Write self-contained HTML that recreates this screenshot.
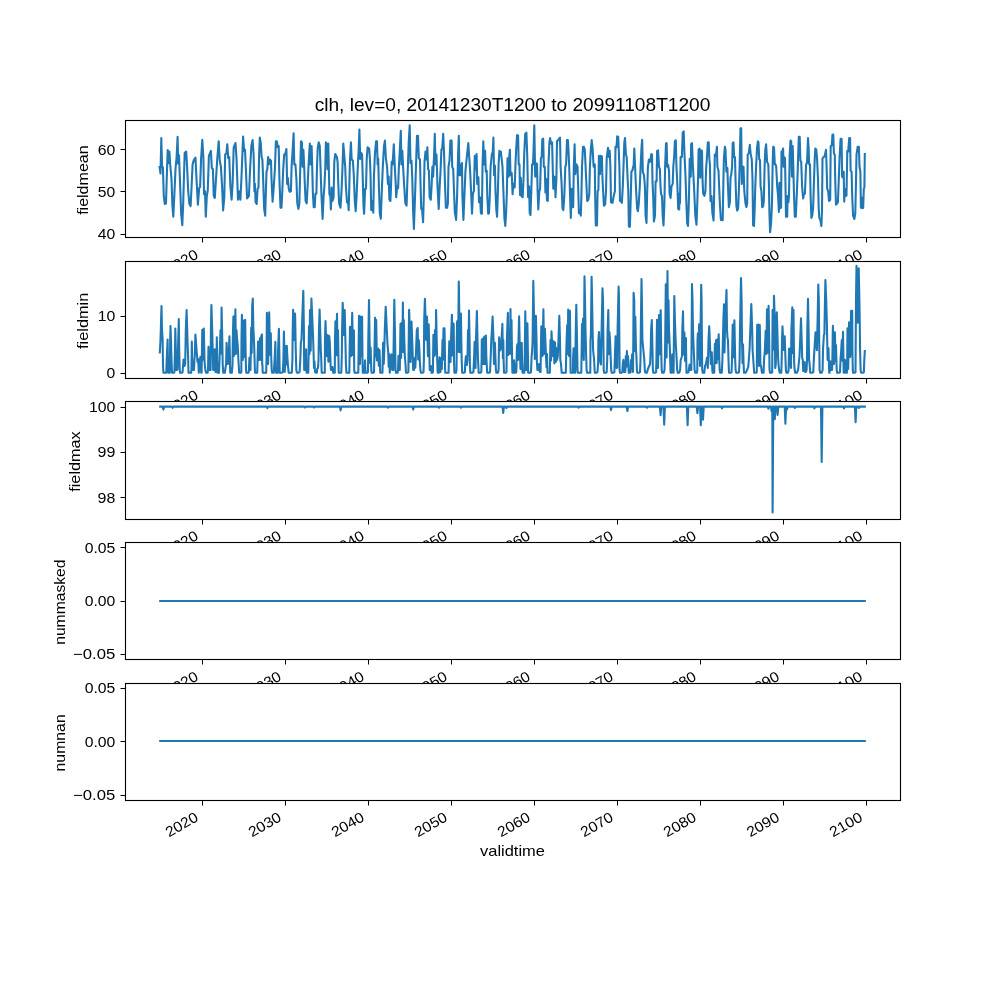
<!DOCTYPE html>
<html><head><meta charset="utf-8"><title>clh lev=0</title>
<style>
html,body{margin:0;padding:0;background:#fff;}
body{width:1000px;height:1000px;overflow:hidden;}
svg{display:block;will-change:transform;}
text{font-family:"Liberation Sans",sans-serif;fill:#000;}
.t{font-size:14.5px;}
.ti{font-size:18.2px;}
.fr{fill:#fff;stroke:#000;stroke-width:1.11;}
.tk{stroke:#000;stroke-width:1;fill:none;}
.ln{fill:none;stroke:#1f77b4;stroke-width:2.083;stroke-linejoin:round;stroke-linecap:square;}
</style></head>
<body>
<svg width="1000" height="1000" viewBox="0 0 1000 1000">
<rect x="0" y="0" width="1000" height="1000" fill="#fff"/>
<g id="ax0">
<rect class="fr" x="125.5" y="120.5" width="775" height="117"/>
<polyline class="ln" points="159.6,166.8 160.5,173.5 161.3,138.1 162.1,166.8 162.9,167.4 163.8,196.1 164.8,204.0 166.0,203.4 166.8,176.6 167.7,150.0 168.5,163.1 169.4,151.6 170.2,164.4 171.5,179.0 172.4,205.8 173.3,216.6 174.3,196.1 175.5,169.2 176.6,157.0 177.6,136.9 178.2,163.8 179.0,155.2 180.0,181.4 181.2,214.4 182.3,225.1 183.2,203.4 184.0,175.3 184.7,152.8 186.2,151.6 187.1,166.8 188.2,191.2 189.4,204.0 190.6,206.1 191.6,186.3 192.6,164.4 193.8,160.1 195.5,157.7 196.5,179.0 197.9,204.6 199.2,188.2 200.1,186.9 201.1,158.3 202.3,139.7 203.4,158.3 204.0,194.2 205.0,191.2 205.8,216.8 206.8,196.1 207.8,190.0 208.9,155.8 210.9,150.9 211.8,168.0 212.9,169.2 213.8,196.1 214.8,197.9 216.0,179.0 217.2,159.5 218.7,141.2 219.7,160.1 220.9,166.8 222.1,186.3 223.1,210.5 224.3,197.3 225.2,154.6 226.4,153.4 227.3,144.2 228.2,158.3 229.2,157.0 230.4,186.3 231.6,199.7 232.6,183.9 233.7,147.3 235.5,143.0 236.5,158.3 238.0,199.7 239.2,191.2 240.4,199.7 241.4,179.0 243.1,136.5 244.1,150.9 245.0,149.7 245.9,169.2 247.1,198.5 248.9,196.1 250.2,166.8 251.4,145.4 252.6,140.0 253.6,154.6 254.4,191.2 254.9,183.9 255.6,202.2 256.7,204.0 257.6,188.8 258.5,187.5 259.1,154.6 259.8,137.5 260.7,142.4 261.6,157.0 262.4,159.5 263.4,186.3 264.1,208.3 265.2,215.6 265.9,191.2 266.5,171.7 267.3,169.2 268.1,157.0 268.9,164.4 269.8,159.5 271.0,160.7 271.5,179.0 272.6,201.6 273.8,186.3 275.0,166.8 275.9,141.2 276.8,141.2 277.8,147.3 278.7,146.1 279.4,179.0 280.5,207.7 281.5,207.7 282.3,191.2 283.2,169.2 284.2,154.6 285.1,154.6 286.4,149.1 286.8,166.8 287.1,183.9 287.8,177.8 288.8,188.8 289.6,191.8 290.9,191.2 291.6,166.8 292.5,152.2 293.6,133.2 294.3,164.4 295.4,164.4 296.4,179.0 297.3,203.4 298.4,208.9 299.4,203.4 300.3,166.8 301.0,141.2 301.9,142.4 302.6,166.8 303.4,149.7 304.2,166.8 304.9,186.3 305.6,201.0 306.7,203.4 307.6,186.3 308.6,164.4 309.8,143.6 310.6,164.4 311.6,146.1 312.2,166.8 312.9,193.6 313.7,207.1 314.7,207.1 315.4,193.6 316.4,193.6 317.0,166.8 317.7,148.5 318.7,142.4 319.8,146.1 320.5,166.8 321.4,193.6 322.6,219.0 323.6,196.1 324.4,186.3 325.3,166.8 325.9,142.4 326.9,144.8 327.6,169.2 328.3,143.6 328.9,170.5 329.4,194.2 330.3,196.1 330.9,209.5 331.6,187.5 332.5,201.0 333.6,197.3 334.3,161.9 335.2,154.0 336.9,157.0 337.6,161.9 338.2,181.4 339.1,203.4 340.5,207.7 341.5,191.2 342.5,166.8 343.3,143.6 344.2,154.6 345.2,166.8 345.9,186.3 347.0,202.2 348.2,203.4 348.7,210.1 349.3,186.3 349.9,161.9 350.9,142.4 351.7,159.5 352.9,160.7 353.8,175.3 354.8,201.0 355.7,211.3 356.6,196.1 357.8,166.8 358.7,148.5 359.4,129.6 360.2,158.9 361.1,152.8 362.1,154.6 362.7,176.6 363.5,205.8 364.1,213.8 365.1,188.8 366.0,188.8 366.7,159.5 367.6,147.3 369.2,148.5 370.0,160.7 370.6,176.6 371.2,210.1 372.1,201.0 373.3,212.6 373.9,177.8 374.9,154.6 376.1,141.2 377.0,141.2 377.6,164.4 378.2,158.3 378.9,186.3 379.8,213.2 380.8,218.7 381.6,196.1 382.8,166.8 384.0,146.1 384.9,140.6 385.9,158.3 387.1,166.8 387.9,183.9 388.7,176.6 389.4,199.7 390.4,201.0 391.1,183.9 391.7,161.9 392.6,164.4 393.8,144.2 394.8,166.8 395.6,181.4 396.2,197.3 397.2,186.3 398.1,188.2 398.9,166.8 399.9,148.5 400.8,130.8 401.5,164.4 402.3,150.9 403.1,166.8 404.2,186.3 405.4,203.4 406.6,205.6 407.2,186.3 407.9,166.8 408.7,142.4 409.7,125.3 410.5,163.1 411.5,160.7 412.3,179.0 413.1,210.7 413.9,229.0 414.8,203.4 415.8,171.7 417.0,135.7 418.0,135.7 418.8,158.3 420.0,159.5 420.6,186.3 421.2,208.9 422.0,208.3 423.1,222.3 423.8,196.1 424.5,161.9 425.5,151.6 426.5,159.5 427.4,147.3 428.1,169.2 428.9,170.5 429.6,197.3 430.8,199.7 431.6,186.3 432.4,166.8 433.1,176.6 434.1,154.6 434.8,133.9 435.5,164.4 436.5,154.6 437.5,186.3 438.7,208.9 439.7,186.3 440.5,171.7 441.4,149.7 442.2,148.5 443.2,133.9 444.1,154.6 444.9,181.4 445.9,207.7 447.1,207.7 447.9,203.4 448.5,166.8 449.5,160.7 450.4,140.6 451.6,140.6 452.2,166.8 453.2,169.2 454.0,191.2 454.8,211.9 456.1,219.9 457.1,196.1 458.1,154.6 458.8,135.7 459.5,175.3 460.2,164.4 461.0,175.3 462.0,163.1 462.4,196.1 463.4,219.9 464.4,196.1 465.4,171.7 466.8,157.0 468.3,143.0 469.0,154.6 469.9,166.8 471.1,191.2 472.0,213.8 472.9,193.6 473.9,191.2 474.8,155.8 475.6,169.2 476.6,154.0 477.2,183.9 478.4,177.2 479.0,202.2 480.0,197.3 480.9,213.2 481.9,213.8 482.5,166.8 483.3,141.2 484.2,164.4 485.1,150.9 485.8,171.7 486.7,170.5 487.3,196.1 488.2,213.8 489.0,213.2 489.8,196.1 490.6,166.8 491.9,154.0 492.7,152.2 493.4,137.5 494.1,175.3 494.9,165.6 495.5,191.2 496.4,210.7 497.1,216.8 497.9,191.2 498.6,164.4 499.4,150.9 500.8,151.6 501.6,158.3 502.5,166.8 503.4,191.2 504.4,218.0 505.3,226.0 506.1,213.2 506.9,191.2 507.5,158.3 508.6,176.6 509.2,157.0 509.9,149.7 510.5,175.3 511.7,172.9 512.6,194.2 513.4,183.9 514.7,187.5 515.4,166.8 516.2,148.5 517.1,135.1 518.1,135.7 518.7,164.4 519.5,164.4 520.0,194.9 520.8,177.8 521.5,196.1 522.7,197.3 523.6,176.6 524.2,154.6 525.2,133.9 526.4,132.6 527.2,154.6 528.1,197.3 529.1,186.3 529.7,213.2 530.5,215.0 531.3,191.2 532.1,164.4 533.0,164.4 533.7,146.1 534.3,125.3 535.2,176.6 535.9,163.1 537.0,163.8 537.6,191.2 538.3,209.5 539.3,191.2 540.1,188.8 540.9,158.3 541.7,157.0 542.3,139.3 543.2,138.7 543.8,166.8 544.8,166.8 545.4,192.4 546.2,179.0 547.0,200.3 547.8,201.0 548.4,166.8 549.4,142.4 550.1,138.1 551.1,143.6 552.1,142.4 552.7,166.8 553.3,188.8 554.3,176.6 554.9,177.8 555.5,197.3 556.4,179.0 557.0,141.2 558.2,140.0 559.2,138.7 560.0,137.5 560.6,166.8 561.6,183.9 562.5,208.3 563.3,210.1 564.3,196.1 565.3,166.8 566.1,164.4 567.0,140.0 567.9,140.0 568.5,150.9 569.2,166.8 570.1,196.1 570.8,218.0 571.6,188.8 572.2,207.1 573.2,207.1 573.8,166.8 574.6,144.2 575.3,174.1 576.5,164.4 577.5,166.8 578.3,191.2 578.9,213.2 579.8,210.7 580.8,215.6 581.4,196.1 582.0,166.8 583.0,146.7 583.8,146.7 584.8,149.7 585.6,166.8 586.5,186.3 587.2,201.0 588.4,199.7 589.3,193.6 589.9,166.8 590.9,148.5 591.7,140.0 592.6,148.5 593.6,166.8 594.8,164.4 595.1,191.2 595.8,225.4 597.0,225.4 597.6,191.2 598.4,190.0 598.9,155.8 599.9,174.1 600.9,155.8 601.9,156.4 602.3,174.1 603.1,191.2 603.9,205.8 605.1,204.6 606.0,191.2 606.7,158.3 608.0,147.9 608.8,157.0 609.7,150.9 610.4,166.8 611.0,202.2 612.5,202.8 613.7,196.1 614.9,191.2 615.5,146.7 616.5,147.3 617.2,136.3 618.2,136.9 618.9,153.4 619.4,166.8 620.0,201.0 621.0,201.0 621.9,202.8 622.8,186.3 623.5,166.8 624.3,142.4 625.0,138.1 625.9,154.6 626.7,157.0 627.5,176.6 628.3,191.2 628.9,226.6 629.9,226.6 630.8,196.1 631.4,171.7 632.4,170.5 633.2,166.8 633.7,164.4 634.3,148.5 635.1,166.8 635.9,186.3 637.1,208.3 637.9,211.3 638.8,203.4 639.8,186.3 640.7,164.4 641.6,146.1 642.2,139.7 642.8,171.7 644.0,175.3 644.9,186.3 645.6,215.6 646.5,222.9 647.1,196.1 647.9,166.8 648.9,159.5 650.1,161.9 651.4,154.0 652.0,154.6 652.5,181.4 653.2,196.1 653.9,221.5 655.0,215.6 655.6,181.4 656.6,181.4 657.1,150.9 658.1,150.3 659.0,166.8 659.9,169.2 660.5,186.3 661.1,194.2 662.0,196.1 662.7,215.6 663.5,225.4 664.4,203.4 665.1,166.8 666.0,143.6 666.6,143.0 667.2,166.8 668.1,165.0 669.0,170.5 669.6,193.6 670.6,197.9 671.5,186.3 672.7,183.9 673.3,166.8 674.2,155.8 674.9,141.2 675.8,140.3 676.4,164.4 677.3,183.9 678.2,208.9 679.2,209.5 679.5,193.6 680.0,203.4 680.6,157.0 681.9,157.0 682.7,132.6 683.7,131.4 684.3,149.7 685.5,176.6 686.4,203.4 687.1,222.9 688.0,226.0 688.8,203.4 689.4,176.6 689.7,158.9 690.8,176.6 691.1,144.2 692.0,143.0 692.8,164.4 694.0,186.3 695.3,215.6 696.5,224.8 697.3,203.4 698.1,176.6 698.6,149.7 699.5,148.5 700.3,177.8 701.0,150.3 702.0,150.9 702.6,181.4 703.2,193.6 704.4,195.8 705.4,191.2 706.2,166.8 706.9,158.3 707.8,142.4 708.7,142.2 709.3,158.3 709.9,164.4 710.5,201.0 711.5,196.1 712.4,213.2 713.6,220.5 714.2,191.2 714.8,154.6 716.0,155.8 716.9,146.7 717.4,166.8 718.5,170.5 719.1,186.3 720.0,205.8 720.9,219.9 722.7,220.2 723.3,186.3 723.9,158.3 724.9,146.7 725.5,149.7 726.4,171.7 727.4,168.0 727.8,181.4 728.8,205.8 728.9,207.1 729.9,202.2 730.5,177.8 731.3,174.1 732.1,166.8 732.7,143.0 733.5,142.4 734.1,157.0 735.0,157.0 735.7,186.3 736.4,205.8 737.2,210.7 738.2,208.3 739.0,186.3 739.6,166.8 740.5,128.4 741.2,128.4 741.8,183.9 742.7,166.8 743.5,166.8 744.3,191.2 745.5,203.4 746.4,207.1 747.2,203.4 747.7,154.6 748.8,153.4 749.8,144.8 750.6,153.4 751.8,159.5 752.5,179.0 753.1,225.4 754.0,226.0 754.6,210.7 755.3,186.3 756.1,166.8 757.0,148.5 757.9,141.2 758.5,142.4 759.2,159.5 760.0,160.1 760.6,186.3 761.4,191.2 762.2,207.1 763.1,206.4 763.8,201.0 764.6,166.8 765.3,149.7 766.1,144.2 767.1,161.9 768.3,164.4 768.9,183.9 769.5,215.6 770.1,232.1 771.1,222.9 772.0,203.4 772.6,166.8 773.2,146.7 774.0,147.3 774.8,164.4 775.6,164.4 776.2,166.8 777.2,186.3 778.1,196.1 778.9,211.9 779.5,182.7 780.1,208.3 781.1,207.7 781.5,151.6 782.3,152.2 783.1,148.5 783.6,166.8 784.2,157.0 785.0,158.3 785.5,186.3 786.0,216.8 787.2,216.8 787.6,196.1 788.4,202.2 789.0,196.1 789.7,154.6 790.5,140.6 791.2,141.2 791.9,176.6 792.7,146.1 793.3,166.8 793.9,191.2 794.8,216.8 795.8,216.8 796.4,203.4 797.6,174.1 798.2,154.6 798.8,136.9 799.7,136.9 800.4,160.7 801.2,161.9 802.1,186.3 803.1,198.5 804.1,193.6 804.9,193.6 805.5,179.0 806.1,164.4 807.0,163.1 808.0,138.1 808.6,147.3 809.2,164.4 810.0,164.4 810.6,196.1 811.4,218.0 812.2,215.6 813.1,208.3 813.8,186.3 814.7,159.5 815.3,148.5 816.3,149.7 817.1,159.5 818.0,179.0 818.7,208.3 819.3,218.0 820.2,219.3 821.4,226.0 822.0,210.7 822.5,158.3 823.6,157.0 824.1,157.0 825.0,154.6 826.0,149.7 826.6,166.8 827.2,188.8 828.2,191.2 829.0,201.0 830.2,199.7 830.7,146.1 831.8,145.4 832.5,134.5 833.3,134.5 833.9,153.4 834.8,154.6 835.2,179.0 836.0,204.6 837.2,203.4 837.9,202.2 838.8,179.0 839.6,157.0 840.6,138.7 841.6,138.7 842.1,176.6 843.1,177.8 843.7,171.7 844.2,201.6 844.9,188.8 845.5,196.1 846.5,195.5 847.3,150.9 848.2,151.6 849.2,138.1 850.1,138.1 850.6,170.5 851.6,171.7 852.2,196.1 853.1,215.6 854.3,219.0 855.3,213.2 855.9,186.3 856.5,154.6 857.7,146.7 858.9,146.7 859.5,166.8 860.4,171.7 860.9,207.7 861.6,197.3 862.6,208.3 863.2,207.7 863.8,188.8 864.4,187.5 864.8,154.0"/>
<path class="tk" d="M202.5 238v4.5M285.5 238v4.5M368.5 238v4.5M451.5 238v4.5M534.5 238v4.5M617.5 238v4.5M700.5 238v4.5M783.5 238v4.5M866.5 238v4.5"/>
<path class="tk" d="M125 234.5h-4.5M125 191.5h-4.5M125 149.5h-4.5"/>
<text class="t" text-anchor="end" textLength="35.00" lengthAdjust="spacingAndGlyphs" transform="translate(199.27 257.26) rotate(-30)">2020</text>
<text class="t" text-anchor="end" textLength="35.00" lengthAdjust="spacingAndGlyphs" transform="translate(282.31 257.26) rotate(-30)">2030</text>
<text class="t" text-anchor="end" textLength="35.00" lengthAdjust="spacingAndGlyphs" transform="translate(365.32 257.26) rotate(-30)">2040</text>
<text class="t" text-anchor="end" textLength="35.00" lengthAdjust="spacingAndGlyphs" transform="translate(448.36 257.26) rotate(-30)">2050</text>
<text class="t" text-anchor="end" textLength="35.00" lengthAdjust="spacingAndGlyphs" transform="translate(531.38 257.26) rotate(-30)">2060</text>
<text class="t" text-anchor="end" textLength="35.00" lengthAdjust="spacingAndGlyphs" transform="translate(614.42 257.26) rotate(-30)">2070</text>
<text class="t" text-anchor="end" textLength="35.00" lengthAdjust="spacingAndGlyphs" transform="translate(697.43 257.26) rotate(-30)">2080</text>
<text class="t" text-anchor="end" textLength="35.00" lengthAdjust="spacingAndGlyphs" transform="translate(780.47 257.26) rotate(-30)">2090</text>
<text class="t" text-anchor="end" textLength="35.12" lengthAdjust="spacingAndGlyphs" transform="translate(863.49 257.26) rotate(-30)">2100</text>
<text class="t" text-anchor="end" textLength="17.50" lengthAdjust="spacingAndGlyphs" x="115.28" y="238.80">40</text>
<text class="t" text-anchor="end" textLength="17.50" lengthAdjust="spacingAndGlyphs" x="115.28" y="196.67">50</text>
<text class="t" text-anchor="end" textLength="17.62" lengthAdjust="spacingAndGlyphs" x="115.28" y="154.54">60</text>
<text class="t" text-anchor="middle" textLength="69.50" lengthAdjust="spacingAndGlyphs" transform="translate(87.69 180.12) rotate(-90)">fieldmean</text>
<text class="ti" text-anchor="middle" textLength="395.75" lengthAdjust="spacingAndGlyphs" x="512.5" y="111.10">clh, lev=0, 20141230T1200 to 20991108T1200</text>
</g>
<g id="ax1">
<rect class="fr" x="125.5" y="261.5" width="775" height="117"/>
<polyline class="ln" points="159.8,352.5 160.5,340.0 161.5,306.0 162.0,330.0 162.6,338.5 163.0,365.0 163.4,372.8 164.2,372.8 165.5,372.8 166.3,372.8 166.7,360.0 167.6,339.5 168.1,372.0 168.3,372.8 169.1,372.8 169.8,372.8 170.2,340.0 170.5,326.0 171.0,340.0 171.5,360.0 172.0,372.8 172.8,372.8 173.6,372.8 174.4,372.2 175.0,350.0 175.3,328.5 175.7,344.0 176.2,370.0 177.0,370.0 177.4,369.0 178.1,344.5 178.8,319.0 179.2,350.0 179.7,370.0 180.2,372.8 181.0,372.8 181.8,372.8 182.6,372.2 183.5,359.5 184.5,366.0 185.2,364.0 185.8,330.0 186.6,310.0 187.5,339.8 188.2,360.0 188.5,372.8 189.3,372.8 190.5,372.8 191.1,372.8 191.5,369.0 191.8,341.5 192.2,360.0 192.5,370.0 193.2,370.0 194.0,370.0 194.4,360.0 194.8,355.0 195.4,334.5 196.7,351.8 197.5,362.0 198.2,359.0 198.8,372.8 199.5,362.0 199.9,368.1 200.4,356.8 201.2,372.8 201.6,372.8 202.3,329.8 203.1,359.6 203.8,328.5 204.5,360.0 204.9,366.0 205.4,370.0 206.0,372.8 206.8,372.8 207.6,372.8 208.0,370.0 208.5,346.8 209.2,370.0 209.8,370.0 210.6,370.0 210.9,330.0 211.4,305.1 212.2,330.0 212.7,350.0 213.2,370.0 214.0,370.0 214.8,349.2 215.5,372.0 215.8,372.0 216.1,372.0 216.4,370.0 216.8,337.2 217.2,360.0 217.5,372.8 218.2,372.8 219.0,372.8 219.5,360.0 220.0,345.0 220.5,330.0 221.1,353.4 221.6,307.5 222.3,340.0 222.7,364.0 223.2,372.8 224.0,372.8 224.8,372.8 225.5,368.0 226.1,364.0 226.6,342.8 227.8,364.0 228.5,362.5 229.4,336.4 229.9,356.0 230.2,372.8 231.0,372.8 231.8,372.8 232.5,365.0 232.8,340.0 233.4,316.6 233.9,355.9 234.5,316.0 234.9,353.9 235.4,309.4 235.9,353.9 236.5,330.0 237.0,338.0 237.7,345.0 238.4,360.0 239.2,372.8 240.0,372.8 240.8,372.8 241.3,372.2 241.5,340.0 241.9,314.9 242.8,360.0 243.5,320.5 244.3,357.0 245.2,319.8 245.6,350.0 246.0,370.0 246.4,372.8 247.2,372.8 248.0,372.8 248.8,372.2 249.4,357.8 250.1,370.0 250.5,370.0 251.2,327.5 251.7,352.9 252.2,306.0 252.8,298.6 253.4,330.0 253.5,330.0 254.2,346.5 254.9,370.0 255.2,372.8 256.0,372.8 257.2,372.8 258.1,341.5 259.0,360.0 260.0,338.2 260.9,360.0 261.3,336.0 262.0,334.5 262.2,364.0 262.5,366.0 262.7,372.8 263.5,372.8 265.5,372.8 266.2,372.8 266.5,360.0 266.9,312.8 268.1,364.0 269.2,312.4 270.0,354.8 270.8,333.2 271.2,356.0 271.7,370.0 272.2,372.8 273.0,372.8 273.8,372.8 274.6,359.5 275.4,341.8 275.8,370.0 276.2,372.8 277.0,372.8 277.8,372.8 278.1,350.0 278.9,328.9 279.3,350.0 279.7,372.8 280.5,372.8 281.3,372.8 282.8,372.2 283.4,360.0 283.9,331.5 284.8,372.0 285.5,346.0 286.1,364.8 286.8,345.8 287.3,356.0 288.0,366.0 288.7,372.8 289.5,372.8 291.0,372.8 291.8,372.8 292.4,360.0 292.7,330.0 293.1,309.9 294.2,340.0 295.1,313.5 295.7,348.0 296.3,370.0 297.0,372.8 297.8,372.8 298.6,372.8 299.6,372.0 300.3,360.0 300.9,342.0 301.5,340.0 302.2,320.0 303.3,290.7 303.9,330.0 304.2,370.0 305.0,370.0 305.4,370.0 306.1,349.2 306.5,372.0 306.7,372.8 307.5,372.8 308.3,372.8 308.5,360.0 309.0,326.0 309.5,354.1 310.0,310.0 310.7,350.7 311.4,298.6 312.8,330.0 313.5,350.0 314.0,368.0 314.5,361.5 315.0,372.0 316.0,372.8 316.8,372.8 317.2,369.0 318.0,368.0 318.5,360.0 319.0,330.0 319.6,309.6 320.2,330.0 320.8,350.0 321.2,358.0 321.7,372.8 322.5,372.8 324.0,372.8 324.8,372.8 325.0,340.0 325.5,321.1 326.6,356.0 327.6,335.0 328.4,361.6 329.2,336.0 329.8,342.0 330.3,356.0 330.6,365.0 331.0,370.0 331.8,370.0 332.5,367.0 333.2,372.8 334.5,372.8 334.8,372.8 335.0,340.0 335.4,321.4 336.2,355.2 337.0,313.8 337.5,355.2 338.0,330.0 338.4,354.0 338.7,372.8 339.5,372.8 340.5,372.8 341.3,372.8 341.8,356.0 342.1,330.0 342.7,302.9 343.8,335.0 344.7,310.0 345.4,340.0 345.9,364.0 346.4,372.8 347.2,372.8 348.5,372.8 349.3,372.8 349.5,360.0 350.0,326.8 351.2,356.0 352.2,312.8 353.0,354.9 353.9,330.2 354.2,370.0 354.7,372.8 355.5,372.8 357.5,372.8 358.3,372.8 358.5,360.0 359.0,315.8 360.0,364.0 360.5,316.5 361.3,356.1 362.1,316.8 362.5,360.0 362.8,372.8 363.5,372.8 364.3,372.8 364.6,370.0 365.0,360.2 365.4,370.0 365.7,372.8 366.5,372.8 367.3,372.8 368.0,372.0 368.3,340.0 369.0,300.0 369.6,340.0 370.1,363.1 370.6,347.5 371.3,370.0 371.7,372.8 372.5,372.8 373.3,372.8 374.0,372.2 374.5,350.0 375.1,317.8 375.6,356.4 376.2,320.0 376.9,360.5 378.1,348.5 378.8,365.6 379.5,350.0 379.9,360.0 380.2,372.8 380.5,372.8 381.8,372.8 382.5,372.8 382.8,356.0 383.1,342.8 383.7,363.9 384.2,353.0 384.8,330.0 385.7,306.8 386.8,330.0 387.5,344.0 388.2,352.0 388.7,366.7 389.2,354.0 389.8,372.8 390.5,356.0 391.0,367.4 391.5,354.2 392.2,370.0 392.5,370.0 393.3,370.0 393.7,340.0 394.3,299.8 395.1,340.0 395.5,370.0 396.0,372.8 396.8,372.8 397.6,372.8 398.0,370.0 398.5,355.8 399.2,370.0 399.5,370.0 399.8,370.0 400.5,323.8 401.1,357.9 401.8,322.5 402.3,351.9 402.9,302.6 403.3,351.9 403.8,320.0 404.3,340.0 404.8,356.0 405.4,362.5 406.0,372.8 406.8,372.8 407.6,372.8 408.4,372.0 408.7,340.0 409.1,309.9 410.2,340.0 410.5,362.0 411.5,321.6 412.2,340.0 412.7,356.0 413.2,370.0 414.0,370.0 414.8,358.0 415.3,367.8 415.9,355.5 416.8,330.0 417.7,328.0 418.2,359.5 418.8,340.0 419.3,348.0 419.8,360.0 420.4,370.0 421.0,372.8 421.8,372.8 422.6,372.8 423.5,372.2 423.9,360.0 424.2,320.0 424.9,298.9 426.2,340.0 427.0,316.5 427.9,356.1 428.7,324.2 429.3,350.0 429.7,370.0 430.5,370.0 431.0,366.0 431.5,372.8 432.3,372.8 432.9,372.2 433.4,334.8 434.5,356.0 435.0,330.0 435.6,354.1 436.1,310.0 436.7,340.0 437.2,360.0 437.7,372.8 438.5,372.8 438.8,372.8 439.5,357.2 440.2,372.0 440.5,372.0 441.2,358.0 441.8,369.0 442.5,340.0 443.0,359.6 443.5,328.4 444.0,359.6 444.5,328.3 444.8,343.5 445.1,370.0 445.4,372.8 446.2,372.8 447.8,372.8 448.6,372.8 448.8,360.0 449.3,341.2 450.5,362.0 451.0,340.0 451.9,314.8 452.5,355.5 453.1,323.2 453.7,324.0 454.0,360.0 454.4,372.8 455.2,372.8 456.0,372.8 456.5,370.0 456.8,340.0 457.1,321.2 458.0,352.0 458.8,281.6 459.9,352.2 460.9,313.5 461.3,340.0 461.7,360.0 462.2,372.8 463.0,372.8 463.8,372.8 464.9,372.2 465.2,364.0 465.9,356.2 466.8,365.0 467.5,360.0 468.0,330.0 468.5,354.3 469.0,310.6 469.6,340.0 469.9,366.0 470.4,372.8 471.2,372.8 472.0,372.8 473.4,372.2 474.0,360.0 474.6,341.8 475.5,368.0 476.0,340.0 476.9,311.1 477.5,340.0 478.0,360.0 478.7,372.8 479.5,372.8 480.3,372.8 481.3,372.2 481.6,360.0 481.8,339.5 482.4,364.0 483.0,338.5 483.7,364.0 484.3,336.5 485.0,364.0 485.9,335.5 486.3,356.0 486.7,364.0 487.2,372.8 488.0,372.8 488.8,372.8 490.0,372.2 490.6,360.0 491.3,340.0 491.9,330.0 492.6,316.6 493.5,340.0 494.0,364.0 494.9,342.8 495.5,360.0 495.9,370.0 496.4,372.8 497.2,372.8 498.0,372.8 498.6,370.0 499.1,337.4 500.2,350.5 501.0,348.0 501.5,340.0 502.4,323.9 502.9,358.3 503.3,340.0 503.6,360.0 504.0,372.8 504.8,372.8 505.6,372.8 506.5,372.2 506.9,340.0 507.4,325.0 507.9,312.9 508.3,355.0 508.8,332.0 509.4,330.0 509.9,353.8 510.5,309.1 511.0,353.8 511.5,320.0 511.8,340.0 512.2,364.0 512.4,372.8 513.2,372.8 513.5,372.8 514.1,360.2 515.0,372.8 515.8,372.8 516.3,372.0 517.0,346.5 517.5,344.0 518.0,360.0 518.5,340.0 519.1,316.4 520.0,356.0 520.5,369.0 521.7,342.8 522.3,370.0 522.7,372.8 523.5,372.8 524.3,372.8 524.7,360.0 525.3,311.2 526.2,370.0 526.7,370.0 527.4,323.2 528.0,360.0 528.2,372.8 529.0,372.8 529.8,372.8 531.0,372.2 531.6,356.0 532.1,352.0 532.6,340.0 533.3,280.9 534.5,340.0 534.8,359.0 535.9,315.9 536.5,340.0 536.9,362.0 537.4,370.0 538.2,370.0 539.0,364.0 539.8,372.0 540.6,372.0 540.9,350.0 541.3,326.4 542.5,356.0 543.4,309.4 544.1,353.9 544.9,328.8 545.9,353.8 546.5,367.2 547.0,354.0 547.5,372.8 549.8,372.8 550.5,340.0 551.0,360.5 551.5,331.4 552.6,356.0 553.7,341.2 554.4,363.5 555.0,342.5 555.8,362.0 556.2,348.0 557.0,360.0 557.8,356.0 558.5,340.0 559.3,315.9 560.0,340.0 560.3,360.0 561.0,363.8 561.7,372.8 562.5,372.8 565.0,372.8 565.8,372.8 566.3,350.0 566.8,335.0 567.2,325.0 567.7,354.0 568.2,309.6 569.0,356.0 569.9,310.8 570.6,372.8 572.2,372.8 572.9,372.8 573.1,358.0 573.6,348.2 574.5,372.8 575.3,372.8 575.6,339.5 576.3,304.8 577.0,340.0 577.5,370.0 578.0,372.8 578.8,372.8 580.5,372.8 581.3,372.8 581.5,360.0 581.8,340.0 582.0,324.0 582.6,356.6 583.1,318.5 583.8,360.0 584.5,276.2 585.0,300.0 585.5,330.0 586.0,350.0 586.6,370.0 587.2,372.8 588.0,372.8 589.5,372.8 590.3,372.8 590.5,340.0 590.9,334.2 591.6,276.7 592.1,300.0 592.6,330.0 593.1,350.0 594.0,358.5 594.8,372.8 595.6,372.8 596.4,372.8 597.5,372.2 598.1,364.0 598.4,340.0 599.0,332.1 600.0,360.0 600.9,364.5 601.6,330.0 602.5,288.2 603.0,300.0 603.4,340.0 603.7,370.0 604.2,372.8 605.0,372.8 605.8,372.8 606.7,372.2 607.2,360.0 607.6,330.0 608.3,310.1 608.9,354.1 609.4,332.0 610.0,340.0 610.6,356.0 611.2,370.0 611.7,372.8 612.5,372.8 613.3,372.8 614.4,372.2 614.8,360.0 615.6,336.4 616.6,368.0 617.2,367.5 617.6,330.0 618.6,286.5 619.0,300.0 619.4,340.0 619.6,370.0 620.0,372.8 620.8,372.8 621.6,372.8 622.3,372.2 622.8,364.0 623.4,359.9 624.1,372.0 624.4,372.0 625.1,372.0 625.4,370.0 625.8,356.0 626.3,366.4 626.9,351.1 627.4,366.4 628.0,356.0 628.5,365.0 628.7,372.8 629.2,372.8 630.0,372.8 630.6,372.2 631.0,360.0 631.6,367.4 632.1,354.2 633.0,372.0 633.3,340.0 633.6,292.8 634.2,300.0 634.8,351.1 635.3,316.8 636.0,350.0 636.4,356.0 636.9,370.0 637.4,372.8 638.2,372.8 639.0,372.8 640.0,372.2 640.5,360.0 640.8,330.0 641.5,279.0 641.9,300.0 642.4,340.0 643.1,347.5 644.2,358.5 644.8,370.0 645.4,372.8 646.2,372.8 647.0,372.8 647.9,369.0 649.0,366.5 650.1,364.0 650.7,350.0 651.1,330.0 651.8,320.1 652.5,350.0 652.9,370.0 653.4,372.8 654.2,372.8 655.0,372.8 656.1,372.2 656.4,360.0 657.0,319.8 658.0,368.0 659.0,315.1 659.9,354.2 660.7,310.2 661.3,354.0 661.7,370.0 662.2,372.8 663.0,372.8 663.8,372.8 664.5,370.0 664.9,360.0 665.2,340.0 665.8,284.2 666.6,357.5 667.5,271.1 668.0,342.4 668.5,300.0 669.0,330.0 669.8,347.2 670.6,372.8 671.4,372.8 672.3,354.2 673.2,372.8 673.6,372.8 673.9,340.0 674.3,296.1 674.9,320.0 675.7,342.2 676.5,356.0 677.1,369.0 677.7,372.8 678.5,372.8 679.3,372.8 680.1,370.0 680.7,360.0 681.4,358.0 682.0,356.0 682.3,330.0 683.0,311.4 683.7,354.5 684.4,332.5 685.1,360.9 685.9,338.0 686.3,364.0 686.5,372.8 687.2,372.8 688.5,372.2 689.6,364.5 690.6,370.0 691.3,370.0 691.6,340.0 692.0,284.1 692.5,300.0 693.0,330.0 693.4,342.0 694.0,356.0 694.6,370.0 695.2,372.8 696.0,372.8 696.8,372.8 697.3,370.0 697.5,340.0 697.9,333.2 698.5,358.4 699.1,324.2 700.0,366.0 701.2,284.7 701.6,300.0 701.9,340.0 702.2,369.0 702.7,372.8 703.5,372.8 704.3,372.8 705.1,365.5 706.0,364.0 706.9,357.8 707.8,368.0 708.5,340.0 709.2,326.4 710.2,350.0 710.8,364.0 711.8,352.4 712.3,370.0 712.7,372.8 713.5,372.8 714.2,372.8 714.5,360.0 714.9,343.8 715.5,363.1 716.1,340.0 716.7,362.9 717.2,339.5 717.6,359.0 718.7,334.2 719.3,360.0 719.7,370.0 720.2,372.8 721.0,372.8 721.8,372.8 722.4,360.0 722.9,340.0 723.4,320.0 724.0,304.2 724.5,352.4 725.0,328.0 726.5,290.1 727.0,330.0 727.5,338.0 728.0,340.0 728.5,360.0 729.0,372.8 729.8,372.8 730.6,372.8 731.6,372.2 732.0,360.0 732.7,324.5 733.5,357.2 734.4,320.2 735.2,360.5 735.6,370.0 736.2,372.8 737.0,372.8 737.8,372.8 739.0,372.2 739.6,360.0 740.0,330.0 741.0,278.0 741.6,300.0 742.0,340.0 742.5,363.1 743.0,344.2 743.6,364.0 744.0,372.8 744.8,372.8 745.6,372.8 746.6,371.0 747.5,369.0 748.2,367.0 748.8,360.0 749.6,348.8 750.3,330.0 751.3,304.1 752.2,330.0 752.6,350.0 753.4,361.8 754.2,372.8 755.0,372.8 755.8,372.8 756.8,372.2 757.0,340.0 757.2,324.8 757.9,358.4 758.5,324.5 759.0,366.0 759.8,325.0 760.4,364.0 761.1,366.5 762.0,372.8 762.8,372.8 763.6,372.8 764.0,360.0 764.8,351.2 765.7,330.8 766.4,353.9 767.0,309.2 767.8,352.8 768.6,305.8 769.2,340.0 769.5,369.0 770.0,372.8 770.8,372.8 771.6,372.8 772.2,372.2 772.4,340.0 772.6,310.0 773.3,349.8 774.0,295.7 774.8,320.0 775.2,368.0 775.8,364.0 776.8,312.4 777.6,340.0 778.0,356.0 778.5,364.0 779.1,370.0 779.7,372.8 780.5,372.8 781.3,372.8 781.7,360.0 782.0,340.0 782.5,326.4 783.6,350.0 784.7,336.4 785.5,360.0 785.9,370.0 786.4,372.8 787.2,372.8 788.0,372.8 788.6,370.0 789.0,348.8 789.8,365.5 790.5,348.0 791.0,368.0 791.4,330.0 792.3,307.4 792.9,353.3 793.5,310.0 793.8,340.0 794.2,364.0 794.7,370.0 795.2,372.8 796.0,372.8 796.8,372.8 798.1,370.0 798.9,362.0 799.5,356.0 800.2,340.0 801.0,318.4 801.7,340.0 802.2,358.0 802.8,360.0 803.2,371.0 804.0,371.0 804.6,362.0 805.2,372.0 806.0,372.0 806.6,370.0 807.0,360.0 807.3,330.0 808.0,298.7 808.6,330.0 809.1,360.0 809.6,364.0 810.2,372.8 811.0,372.8 811.8,372.8 813.3,372.2 813.8,360.0 814.5,348.5 815.5,332.4 816.9,350.2 817.6,320.0 818.3,284.5 818.8,300.0 819.2,340.0 819.6,370.0 820.2,372.8 821.0,372.8 821.8,372.8 822.6,370.0 823.0,350.0 823.9,334.8 824.4,334.5 824.8,310.0 825.4,280.0 826.2,300.0 826.8,320.0 827.2,340.0 827.6,360.0 828.5,348.2 829.2,372.8 829.5,372.8 830.4,361.2 831.2,370.0 832.0,370.0 832.3,364.0 832.9,325.9 833.6,350.0 834.0,364.0 834.9,332.4 835.5,360.8 836.0,345.0 836.4,360.0 836.7,370.0 837.2,372.8 838.0,372.8 838.8,372.8 840.0,372.2 840.5,360.0 841.2,350.0 841.8,340.0 842.4,360.7 843.0,331.9 843.7,372.8 844.0,372.8 844.9,359.8 845.4,360.5 845.6,372.8 846.2,372.8 846.8,372.8 847.1,370.0 847.5,328.2 848.2,369.0 849.1,322.2 850.2,357.0 851.1,310.8 851.6,354.3 852.2,310.8 852.4,350.0 852.8,370.0 853.2,372.8 854.0,372.8 854.8,372.8 855.5,372.2 855.8,330.0 856.0,300.0 856.5,265.8 857.7,322.8 858.7,268.4 859.4,300.0 859.7,320.0 860.1,350.0 860.6,370.0 861.2,372.8 862.0,372.8 862.8,372.8 863.9,372.2 864.2,362.0 864.8,351.0"/>
<path class="tk" d="M202.5 379v4.5M285.5 379v4.5M368.5 379v4.5M451.5 379v4.5M534.5 379v4.5M617.5 379v4.5M700.5 379v4.5M783.5 379v4.5M866.5 379v4.5"/>
<path class="tk" d="M125 373.5h-4.5M125 316.5h-4.5"/>
<text class="t" text-anchor="end" textLength="35.00" lengthAdjust="spacingAndGlyphs" transform="translate(199.27 397.95) rotate(-30)">2020</text>
<text class="t" text-anchor="end" textLength="35.00" lengthAdjust="spacingAndGlyphs" transform="translate(282.31 397.95) rotate(-30)">2030</text>
<text class="t" text-anchor="end" textLength="35.00" lengthAdjust="spacingAndGlyphs" transform="translate(365.32 397.95) rotate(-30)">2040</text>
<text class="t" text-anchor="end" textLength="35.00" lengthAdjust="spacingAndGlyphs" transform="translate(448.36 397.95) rotate(-30)">2050</text>
<text class="t" text-anchor="end" textLength="35.00" lengthAdjust="spacingAndGlyphs" transform="translate(531.38 397.95) rotate(-30)">2060</text>
<text class="t" text-anchor="end" textLength="35.00" lengthAdjust="spacingAndGlyphs" transform="translate(614.42 397.95) rotate(-30)">2070</text>
<text class="t" text-anchor="end" textLength="35.00" lengthAdjust="spacingAndGlyphs" transform="translate(697.43 397.95) rotate(-30)">2080</text>
<text class="t" text-anchor="end" textLength="35.00" lengthAdjust="spacingAndGlyphs" transform="translate(780.47 397.95) rotate(-30)">2090</text>
<text class="t" text-anchor="end" textLength="35.12" lengthAdjust="spacingAndGlyphs" transform="translate(863.49 397.95) rotate(-30)">2100</text>
<text class="t" text-anchor="end" textLength="8.75" lengthAdjust="spacingAndGlyphs" x="115.28" y="377.80">0</text>
<text class="t" text-anchor="end" textLength="17.62" lengthAdjust="spacingAndGlyphs" x="115.28" y="321.41">10</text>
<text class="t" text-anchor="middle" textLength="56.25" lengthAdjust="spacingAndGlyphs" transform="translate(87.69 320.81) rotate(-90)">fieldmin</text>
</g>
<g id="ax2">
<rect class="fr" x="125.5" y="401.5" width="775" height="118"/>
<polyline class="ln" points="160.2,406.6 162.7,406.6 163.4,409.6 164.1,406.6 171.9,406.6 172.6,407.8 173.3,406.6 266.7,406.6 267.4,408.2 268.1,406.6 304.3,406.6 305.0,407.5 305.7,406.6 313.3,406.6 314.0,407.5 314.7,406.6 339.9,406.6 340.6,410.4 341.3,406.6 387.3,406.6 388.0,407.6 388.7,406.6 412.5,406.6 413.2,409.6 413.9,406.6 438.3,406.6 439.0,407.6 439.7,406.6 460.3,406.6 461.0,407.6 461.7,406.6 502.5,406.6 503.2,413.0 503.9,406.6 505.7,406.6 506.4,408.0 507.1,406.6 577.9,406.6 578.6,407.6 579.3,406.6 610.3,406.6 611.0,410.0 611.7,406.6 626.7,406.6 627.4,411.0 628.1,406.6 646.3,406.6 647.0,407.6 647.7,406.6 659.9,406.6 660.6,415.2 661.3,406.6 663.5,406.6 664.2,424.8 664.9,406.6 686.9,406.6 687.6,425.2 688.3,406.6 696.7,406.6 697.4,413.2 698.1,406.6 700.1,406.6 700.8,425.2 701.5,406.6 702.3,406.6 703.0,419.6 703.7,406.6 721.3,406.6 722.0,408.4 722.7,406.6 767.7,406.6 768.4,408.7 769.1,406.6 770.9,406.6 771.6,411.0 772.3,406.6 772.6,512.4 773.3,406.6 774.1,406.6 774.8,419.3 775.5,406.6 776.9,406.6 777.6,415.0 778.3,406.6 784.7,406.6 785.4,423.8 786.1,406.6 786.3,406.6 787.0,409.5 787.7,406.6 794.1,406.6 794.8,408.0 795.5,406.6 813.7,406.6 814.4,408.4 815.1,406.6 821.0,406.6 821.7,462.0 822.4,406.6 843.3,406.6 844.0,408.5 844.7,406.6 854.9,406.6 855.6,422.1 856.3,406.6 858.2,406.6 858.9,408.0 859.6,406.6 864.8,406.6"/>
<path class="tk" d="M202.5 520v4.5M285.5 520v4.5M368.5 520v4.5M451.5 520v4.5M534.5 520v4.5M617.5 520v4.5M700.5 520v4.5M783.5 520v4.5M866.5 520v4.5"/>
<path class="tk" d="M125 497.5h-4.5M125 452.5h-4.5M125 407.5h-4.5"/>
<text class="t" text-anchor="end" textLength="35.00" lengthAdjust="spacingAndGlyphs" transform="translate(199.27 538.64) rotate(-30)">2020</text>
<text class="t" text-anchor="end" textLength="35.00" lengthAdjust="spacingAndGlyphs" transform="translate(282.31 538.64) rotate(-30)">2030</text>
<text class="t" text-anchor="end" textLength="35.00" lengthAdjust="spacingAndGlyphs" transform="translate(365.32 538.64) rotate(-30)">2040</text>
<text class="t" text-anchor="end" textLength="35.00" lengthAdjust="spacingAndGlyphs" transform="translate(448.36 538.64) rotate(-30)">2050</text>
<text class="t" text-anchor="end" textLength="35.00" lengthAdjust="spacingAndGlyphs" transform="translate(531.38 538.64) rotate(-30)">2060</text>
<text class="t" text-anchor="end" textLength="35.00" lengthAdjust="spacingAndGlyphs" transform="translate(614.42 538.64) rotate(-30)">2070</text>
<text class="t" text-anchor="end" textLength="35.00" lengthAdjust="spacingAndGlyphs" transform="translate(697.43 538.64) rotate(-30)">2080</text>
<text class="t" text-anchor="end" textLength="35.00" lengthAdjust="spacingAndGlyphs" transform="translate(780.47 538.64) rotate(-30)">2090</text>
<text class="t" text-anchor="end" textLength="35.12" lengthAdjust="spacingAndGlyphs" transform="translate(863.49 538.64) rotate(-30)">2100</text>
<text class="t" text-anchor="end" textLength="17.75" lengthAdjust="spacingAndGlyphs" x="115.28" y="502.62">98</text>
<text class="t" text-anchor="end" textLength="17.75" lengthAdjust="spacingAndGlyphs" x="115.28" y="457.26">99</text>
<text class="t" text-anchor="end" textLength="26.38" lengthAdjust="spacingAndGlyphs" x="115.28" y="411.91">100</text>
<text class="t" text-anchor="middle" textLength="60.50" lengthAdjust="spacingAndGlyphs" transform="translate(79.94 461.50) rotate(-90)">fieldmax</text>
</g>
<g id="ax3">
<rect class="fr" x="125.5" y="542.5" width="775" height="117"/>
<polyline class="ln" points="160.2,601.0 864.8,601.0"/>
<path class="tk" d="M202.5 660v4.5M285.5 660v4.5M368.5 660v4.5M451.5 660v4.5M534.5 660v4.5M617.5 660v4.5M700.5 660v4.5M783.5 660v4.5M866.5 660v4.5"/>
<path class="tk" d="M125 654.5h-4.5M125 601.5h-4.5M125 547.5h-4.5"/>
<text class="t" text-anchor="end" textLength="35.00" lengthAdjust="spacingAndGlyphs" transform="translate(199.27 679.33) rotate(-30)">2020</text>
<text class="t" text-anchor="end" textLength="35.00" lengthAdjust="spacingAndGlyphs" transform="translate(282.31 679.33) rotate(-30)">2030</text>
<text class="t" text-anchor="end" textLength="35.00" lengthAdjust="spacingAndGlyphs" transform="translate(365.32 679.33) rotate(-30)">2040</text>
<text class="t" text-anchor="end" textLength="35.00" lengthAdjust="spacingAndGlyphs" transform="translate(448.36 679.33) rotate(-30)">2050</text>
<text class="t" text-anchor="end" textLength="35.00" lengthAdjust="spacingAndGlyphs" transform="translate(531.38 679.33) rotate(-30)">2060</text>
<text class="t" text-anchor="end" textLength="35.00" lengthAdjust="spacingAndGlyphs" transform="translate(614.42 679.33) rotate(-30)">2070</text>
<text class="t" text-anchor="end" textLength="35.00" lengthAdjust="spacingAndGlyphs" transform="translate(697.43 679.33) rotate(-30)">2080</text>
<text class="t" text-anchor="end" textLength="35.00" lengthAdjust="spacingAndGlyphs" transform="translate(780.47 679.33) rotate(-30)">2090</text>
<text class="t" text-anchor="end" textLength="35.12" lengthAdjust="spacingAndGlyphs" transform="translate(863.49 679.33) rotate(-30)">2100</text>
<text class="t" text-anchor="end" textLength="42.25" lengthAdjust="spacingAndGlyphs" x="115.28" y="659.18">−0.05</text>
<text class="t" text-anchor="end" textLength="30.62" lengthAdjust="spacingAndGlyphs" x="115.28" y="605.89">0.00</text>
<text class="t" text-anchor="end" textLength="30.62" lengthAdjust="spacingAndGlyphs" x="115.28" y="552.60">0.05</text>
<text class="t" text-anchor="middle" textLength="85.25" lengthAdjust="spacingAndGlyphs" transform="translate(65.07 602.19) rotate(-90)">nummasked</text>
</g>
<g id="ax4">
<rect class="fr" x="125.5" y="683.5" width="775" height="117"/>
<polyline class="ln" points="160.2,741.0 864.8,741.0"/>
<path class="tk" d="M202.5 801v4.5M285.5 801v4.5M368.5 801v4.5M451.5 801v4.5M534.5 801v4.5M617.5 801v4.5M700.5 801v4.5M783.5 801v4.5M866.5 801v4.5"/>
<path class="tk" d="M125 795.5h-4.5M125 741.5h-4.5M125 688.5h-4.5"/>
<text class="t" text-anchor="end" textLength="35.00" lengthAdjust="spacingAndGlyphs" transform="translate(199.27 820.02) rotate(-30)">2020</text>
<text class="t" text-anchor="end" textLength="35.00" lengthAdjust="spacingAndGlyphs" transform="translate(282.31 820.02) rotate(-30)">2030</text>
<text class="t" text-anchor="end" textLength="35.00" lengthAdjust="spacingAndGlyphs" transform="translate(365.32 820.02) rotate(-30)">2040</text>
<text class="t" text-anchor="end" textLength="35.00" lengthAdjust="spacingAndGlyphs" transform="translate(448.36 820.02) rotate(-30)">2050</text>
<text class="t" text-anchor="end" textLength="35.00" lengthAdjust="spacingAndGlyphs" transform="translate(531.38 820.02) rotate(-30)">2060</text>
<text class="t" text-anchor="end" textLength="35.00" lengthAdjust="spacingAndGlyphs" transform="translate(614.42 820.02) rotate(-30)">2070</text>
<text class="t" text-anchor="end" textLength="35.00" lengthAdjust="spacingAndGlyphs" transform="translate(697.43 820.02) rotate(-30)">2080</text>
<text class="t" text-anchor="end" textLength="35.00" lengthAdjust="spacingAndGlyphs" transform="translate(780.47 820.02) rotate(-30)">2090</text>
<text class="t" text-anchor="end" textLength="35.12" lengthAdjust="spacingAndGlyphs" transform="translate(863.49 820.02) rotate(-30)">2100</text>
<text class="t" text-anchor="end" textLength="42.25" lengthAdjust="spacingAndGlyphs" x="115.28" y="799.87">−0.05</text>
<text class="t" text-anchor="end" textLength="30.62" lengthAdjust="spacingAndGlyphs" x="115.28" y="746.58">0.00</text>
<text class="t" text-anchor="end" textLength="30.62" lengthAdjust="spacingAndGlyphs" x="115.28" y="693.29">0.05</text>
<text class="t" text-anchor="middle" textLength="57.12" lengthAdjust="spacingAndGlyphs" transform="translate(65.07 742.88) rotate(-90)">numnan</text>
<text class="t" text-anchor="middle" textLength="64.875" lengthAdjust="spacingAndGlyphs" x="512.5" y="856.00">validtime</text>
</g>
</svg>
</body></html>
